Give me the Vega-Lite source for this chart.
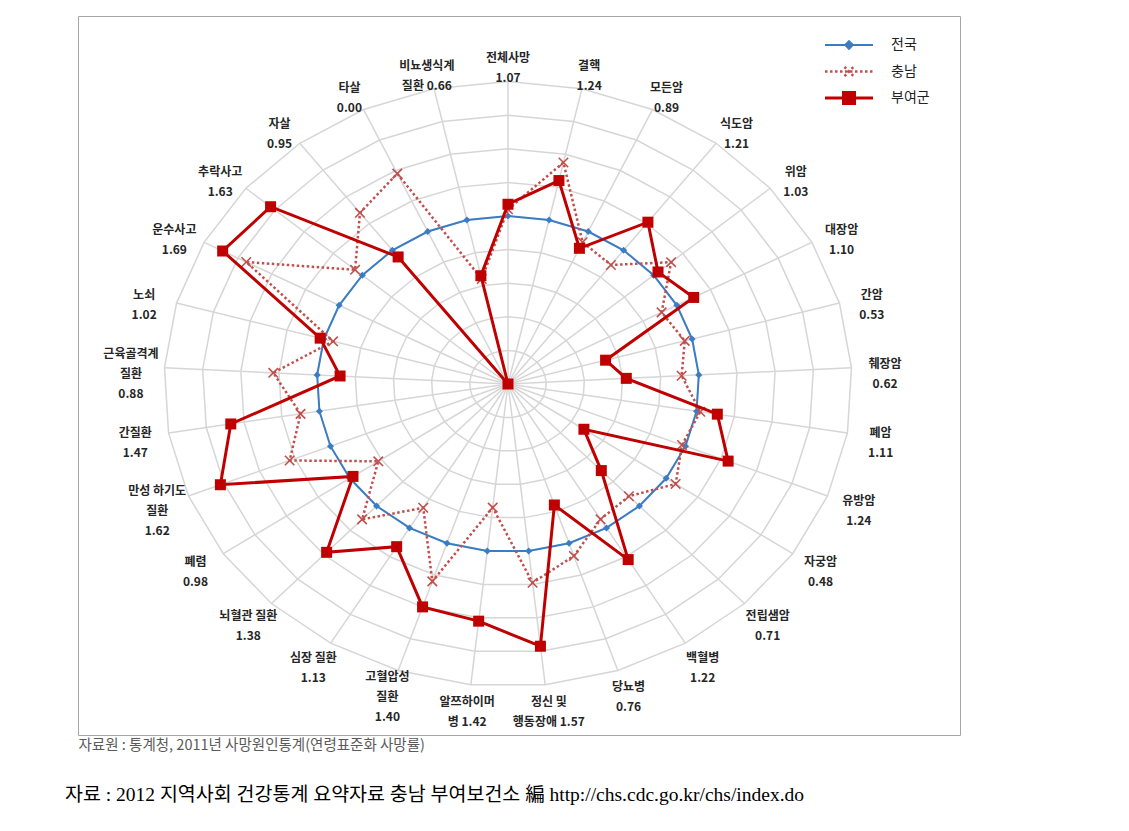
{
  "$schema": "https://vega.github.io/schema/vega-lite/v6.json",
  "width": 882,
  "height": 719,
  "autosize": "none",
  "padding": {"left": 78, "top": 16, "right": 169, "bottom": 96},
  "background": "#ffffff",
  "config": {"view": {"stroke": "#a6a6a6", "strokeWidth": 1}},
  "title": {
    "text": "자료 : 2012 지역사회 건강통계 요약자료 충남 부여보건소 編 http://chs.cdc.go.kr/chs/index.do",
    "orient": "bottom", "anchor": "start", "frame": "group", "dx": -13, "offset": 34,
    "font": "Liberation Serif, Noto Sans CJK KR", "fontSize": 19.5, "fontWeight": "normal", "color": "#000000"
  },
  "data": {"values": [
    {"i": 0, "cat": "전체사망", "label": ["전체사망", "1.07"], "전국": 1, "충남": 1.04, "부여군": 1.07},
    {"i": 1, "cat": "결핵", "label": ["결핵", "1.24"], "전국": 1, "충남": 1.35, "부여군": 1.24},
    {"i": 2, "cat": "모든암", "label": ["모든암", "0.89"], "전국": 1, "충남": 0.93, "부여군": 0.89},
    {"i": 3, "cat": "식도암", "label": ["식도암", "1.21"], "전국": 1, "충남": 0.89, "부여군": 1.21},
    {"i": 4, "cat": "위암", "label": ["위암", "1.03"], "전국": 1, "충남": 1.12, "부여군": 1.03},
    {"i": 5, "cat": "대장암", "label": ["대장암", "1.10"], "전국": 1, "충남": 0.91, "부여군": 1.10},
    {"i": 6, "cat": "간암", "label": ["간암", "0.53"], "전국": 1, "충남": 0.96, "부여군": 0.53},
    {"i": 7, "cat": "췌장암", "label": ["췌장암", "0.62"], "전국": 1, "충남": 0.91, "부여군": 0.62},
    {"i": 8, "cat": "폐암", "label": ["폐암", "1.11"], "전국": 1, "충남": 1.02, "부여군": 1.11},
    {"i": 9, "cat": "유방암", "label": ["유방암", "1.24"], "전국": 1, "충남": 0.98, "부여군": 1.24},
    {"i": 10, "cat": "자궁암", "label": ["자궁암", "0.48"], "전국": 1, "충남": 1.06, "부여군": 0.48},
    {"i": 11, "cat": "전립샘암", "label": ["전립샘암", "0.71"], "전국": 1, "충남": 0.92, "부여군": 0.71},
    {"i": 12, "cat": "백혈병", "label": ["백혈병", "1.22"], "전국": 1, "충남": 0.94, "부여군": 1.22},
    {"i": 13, "cat": "당뇨병", "label": ["당뇨병", "0.76"], "전국": 1, "충남": 1.08, "부여군": 0.76},
    {"i": 14, "cat": "정신 및 행동장애", "label": ["정신 및", "행동장애 1.57"], "전국": 1, "충남": 1.19, "부여군": 1.57},
    {"i": 15, "cat": "알쯔하이머병", "label": ["알쯔하이머", "병 1.42"], "전국": 1, "충남": 0.74, "부여군": 1.42},
    {"i": 16, "cat": "고혈압성 질환", "label": ["고혈압성", "질환", "1.40"], "전국": 1, "충남": 1.24, "부여군": 1.40},
    {"i": 17, "cat": "심장 질환", "label": ["심장 질환", "1.13"], "전국": 1, "충남": 0.86, "부여군": 1.13},
    {"i": 18, "cat": "뇌혈관 질환", "label": ["뇌혈관 질환", "1.38"], "전국": 1, "충남": 1.11, "부여군": 1.38},
    {"i": 19, "cat": "폐렴", "label": ["폐렴", "0.98"], "전국": 1, "충남": 0.82, "부여군": 0.98},
    {"i": 20, "cat": "만성 하기도 질환", "label": ["만성 하기도", "질환", "1.62"], "전국": 1, "충남": 1.23, "부여군": 1.62},
    {"i": 21, "cat": "간질환", "label": ["간질환", "1.47"], "전국": 1, "충남": 1.10, "부여군": 1.47},
    {"i": 22, "cat": "근육골격계 질환", "label": ["근육골격계", "질환", "0.88"], "전국": 1, "충남": 1.23, "부여군": 0.88},
    {"i": 23, "cat": "노쇠", "label": ["노쇠", "1.02"], "전국": 1, "충남": 0.95, "부여군": 1.02},
    {"i": 24, "cat": "운수사고", "label": ["운수사고", "1.69"], "전국": 1, "충남": 1.55, "부여군": 1.69},
    {"i": 25, "cat": "추락사고", "label": ["추락사고", "1.63"], "전국": 1, "충남": 1.05, "부여군": 1.63},
    {"i": 26, "cat": "자살", "label": ["자살", "0.95"], "전국": 1, "충남": 1.28, "부여군": 0.95},
    {"i": 27, "cat": "타살", "label": ["타살", "0.00"], "전국": 1, "충남": 1.38, "부여군": 0.00},
    {"i": 28, "cat": "비뇨생식계 질환", "label": ["비뇨생식계", "질환 0.66"], "전국": 1, "충남": 0.64, "부여군": 0.66}
  ]},
  "layer": [
    {
      "transform": [
        {"calculate": "[0.2,0.4,0.6,0.8,1.0,1.2,1.4,1.6,1.8]", "as": "lv"},
        {"flatten": ["lv"]},
        {"calculate": "datum.i*2*PI/29", "as": "t"},
        {"calculate": "datum.lv*sin(datum.t)", "as": "gx"},
        {"calculate": "datum.lv*cos(datum.t)", "as": "gy"}
      ],
      "mark": {"type": "line", "interpolate": "linear-closed", "stroke": "#d6d6d6", "strokeWidth": 1.5},
      "encoding": {
        "x": {"field": "gx", "type": "quantitative", "scale": {"domain": [-2.2501, 2.3653], "nice": false, "zero": false},
          "axis": {"domain": false, "ticks": false, "labels": false, "grid": false,
            "title": "자료원 : 통계청, 2011년 사망원인통계(연령표준화 사망률)",
            "titleAnchor": "start", "titleAlign": "left", "titleBaseline": "top", "titlePadding": 3,
            "titleFont": "Noto Sans CJK KR", "titleFontSize": 14.5, "titleFontWeight": "normal", "titleColor": "#5a5a5a"}},
        "y": {"field": "gy", "type": "quantitative", "scale": {"domain": [-2.0893, 2.1905], "nice": false, "zero": false}, "axis": null},
        "detail": {"field": "lv"},
        "order": {"field": "i"}
      }
    },
    {
      "transform": [
        {"calculate": "datum.i*2*PI/29", "as": "t"},
        {"calculate": "1.8*sin(datum.t)", "as": "sx"},
        {"calculate": "1.8*cos(datum.t)", "as": "sy"}
      ],
      "mark": {"type": "rule", "stroke": "#d6d6d6", "strokeWidth": 1.5},
      "encoding": {
        "x": {"field": "sx", "type": "quantitative"},
        "y": {"field": "sy", "type": "quantitative", "axis": null},
        "x2": {"datum": 0},
        "y2": {"datum": 0}
      }
    },
    {
      "transform": [
        {"fold": ["전국", "충남", "부여군"], "as": ["key", "value"]},
        {"calculate": "datum.i*2*PI/29", "as": "t"},
        {"calculate": "datum.value*sin(datum.t)", "as": "px"},
        {"calculate": "datum.value*cos(datum.t)", "as": "py"}
      ],
      "layer": [
        {
          "transform": [{"filter": "datum.key === '전국'"}],
          "mark": {"type": "line", "interpolate": "linear-closed", "strokeWidth": 2},
          "encoding": {
            "x": {"field": "px", "type": "quantitative"},
            "y": {"field": "py", "type": "quantitative", "axis": null},
            "order": {"field": "i"},
            "color": {"field": "key", "type": "nominal",
              "scale": {"domain": ["전국", "충남", "부여군"], "range": ["#3a7dc4", "#c0504d", "#c00000"]},
              "legend": {"title": null, "orient": "none", "legendX": 764, "legendY": 22, "padding": 0,
                "symbolSize": 2304, "labelOffset": 35, "rowPadding": 2.5, "gridAlign": "all",
                "labelFont": "Noto Sans CJK KR", "labelFontSize": 14, "labelColor": "#222222", "labelLimit": 0,
                "encode": {"symbols": {"update": {
                  "shape": {"signal": "datum.value === '전국' ? 'M-1,0H1M0,-0.16L0.16,0L0,0.16L-0.16,0Z' : datum.value === '충남' ? 'M-1,0H1M-0.19,-0.19L0.19,0.19M-0.19,0.19L0.19,-0.19' : 'M-1,0H1M-0.23,-0.23H0.23V0.23H-0.23Z'"},
                  "size": {"value": 2304},
                  "fill": {"signal": "datum.value === '전국' ? '#3a7dc4' : datum.value === '충남' ? 'transparent' : '#c00000'"},
                  "stroke": {"signal": "datum.value === '전국' ? '#3a7dc4' : datum.value === '충남' ? '#c0504d' : '#c00000'"},
                  "strokeDash": {"signal": "datum.value === '충남' ? [2.5,2.5] : [1,0]"},
                  "strokeWidth": {"signal": "datum.value === '부여군' ? 3 : datum.value === '충남' ? 2.5 : 2"},
                  "opacity": {"value": 1}
                }}}
              }
            }
          }
        },
        {
          "transform": [{"filter": "datum.key === '전국'"}],
          "mark": {"type": "point", "shape": "diamond", "filled": true, "size": 50, "color": "#3a7dc4", "opacity": 1},
          "encoding": {
            "x": {"field": "px", "type": "quantitative"},
            "y": {"field": "py", "type": "quantitative", "axis": null}
          }
        },
        {
          "transform": [{"filter": "datum.key === '충남'"}],
          "mark": {"type": "line", "interpolate": "linear-closed", "strokeWidth": 2.5, "strokeDash": [2.5, 2.5], "color": "#c0504d"},
          "encoding": {
            "x": {"field": "px", "type": "quantitative"},
            "y": {"field": "py", "type": "quantitative", "axis": null},
            "order": {"field": "i"}
          }
        },
        {
          "transform": [{"filter": "datum.key === '충남'"}],
          "mark": {"type": "point", "shape": "M-1,-1L1,1M-1,1L1,-1", "filled": false, "size": 90, "stroke": "#c0504d", "strokeWidth": 1.6, "opacity": 1},
          "encoding": {
            "x": {"field": "px", "type": "quantitative"},
            "y": {"field": "py", "type": "quantitative", "axis": null}
          }
        },
        {
          "transform": [{"filter": "datum.key === '부여군'"}],
          "mark": {"type": "line", "interpolate": "linear-closed", "strokeWidth": 3, "color": "#c00000"},
          "encoding": {
            "x": {"field": "px", "type": "quantitative"},
            "y": {"field": "py", "type": "quantitative", "axis": null},
            "order": {"field": "i"}
          }
        },
        {
          "transform": [{"filter": "datum.key === '부여군'"}],
          "mark": {"type": "point", "shape": "square", "filled": true, "size": 121, "color": "#c00000", "opacity": 1},
          "encoding": {
            "x": {"field": "px", "type": "quantitative"},
            "y": {"field": "py", "type": "quantitative", "axis": null}
          }
        }
      ]
    },
    {
      "transform": [
        {"calculate": "datum.i*2*PI/29", "as": "t"},
        {"calculate": "1.976*sin(datum.t)", "as": "lx"},
        {"calculate": "1.923*cos(datum.t)-0.042+(length(datum.label)-1)*10/168", "as": "ly"}
      ],
      "mark": {"type": "text", "align": "center", "baseline": "middle", "font": "Noto Sans CJK KR", "fontSize": 12, "fontWeight": "bold", "lineHeight": 20, "color": "#262626"},
      "encoding": {
        "x": {"field": "lx", "type": "quantitative"},
        "y": {"field": "ly", "type": "quantitative", "axis": null},
        "text": {"field": "label"}
      }
    }
  ]
}
